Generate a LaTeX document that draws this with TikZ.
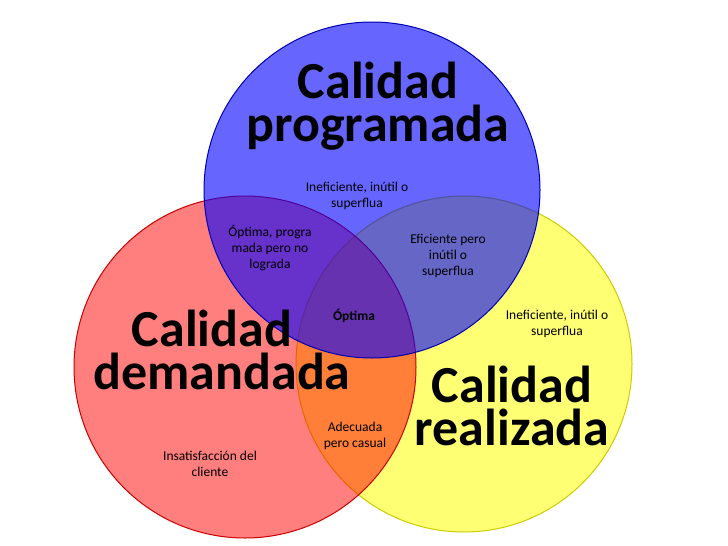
\documentclass[tikz,border=0pt]{standalone}
\usepackage{fontspec}
\setmainfont{Carlito}
\begin{document}
\begin{tikzpicture}[x=1pt,y=-1pt,
  big/.style={font=\fontsize{52}{43}\selectfont\bfseries,align=center,inner sep=0},
  small/.style={font=\fontsize{13.5}{16}\selectfont,align=center,inner sep=0}]
\useasboundingbox (0,0) rectangle (728,546);
\fill[white] (0,0) rectangle (728,546);
\definecolor{yel}{RGB}{255,255,0}
\definecolor{redc}{RGB}{255,0,0}
\definecolor{bluc}{RGB}{0,0,255}
\draw[fill=yel,fill opacity=0.55,draw=yel!80!black,line width=1] (464,364) circle[radius=168] coordinate (Y);
\draw[fill=redc,fill opacity=0.5,draw=redc!80!black,line width=1] (245,367) circle[radius=171] coordinate (R);
\draw[fill=bluc,fill opacity=0.6,draw=bluc!70!black,line width=1] (372,190) circle[radius=168] coordinate (B);
\node[big] (tb) at (378,106) {Calidad\\programada};
\node[big] (tr) at (222,350) {\hspace*{-20pt}Calidad\\demandada};
\node[big] (ty) at (512,406) {Calidad\\realizada};
\node[small] (a) at (357,196) {Ineficiente, inútil o\\superflua};
\node[small] (b) at (270,248) {Óptima, progra\\mada pero no\\lograda};
\node[small] (c) at (448,256) {Eficiente pero\\inútil o\\superflua};
\node[small,font=\fontsize{13.5}{16}\selectfont\bfseries] (d) at (354,316) {Óptima};
\node[small] (e) at (557,324) {Ineficiente, inútil o\\superflua};
\node[small] (f) at (355,436) {Adecuada\\pero casual};
\node[small] (g) at (210,464) {Insatisfacción del\\cliente};
\end{tikzpicture}
\end{document}
